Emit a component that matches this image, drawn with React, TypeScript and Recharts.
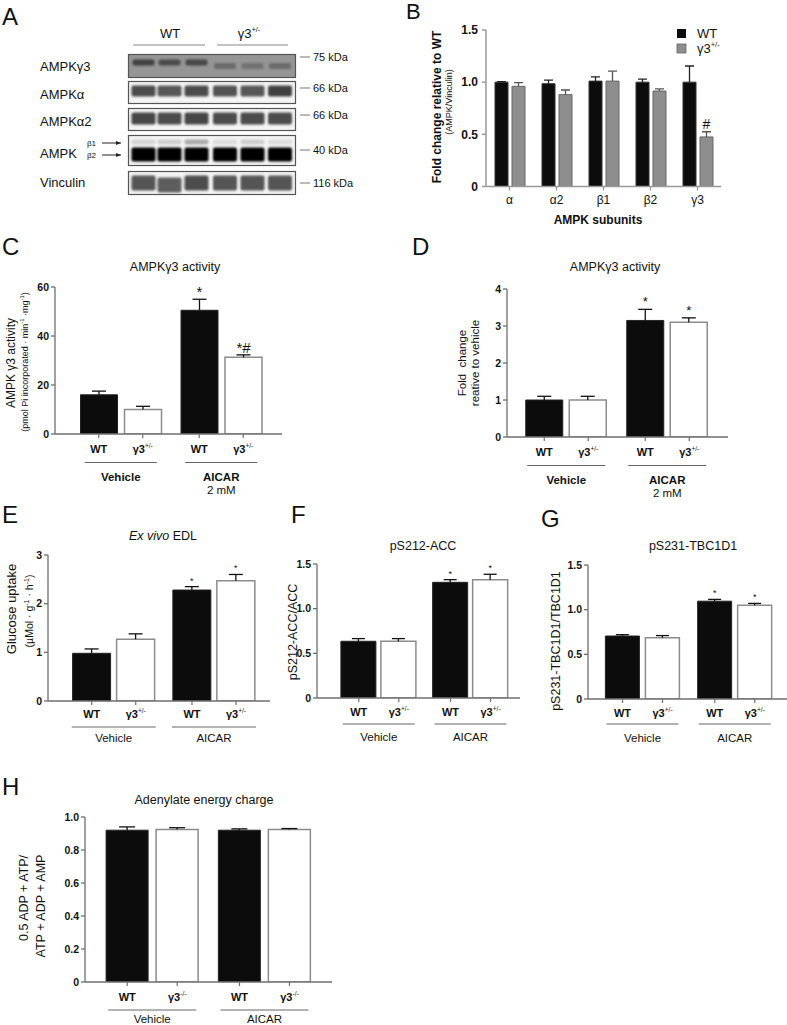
import React from 'react';
import { BarChart, Bar, XAxis, YAxis, LabelList } from 'recharts';

const FONT = '"Liberation Sans", Arial, Helvetica, sans-serif';
const INK = '#111';
const AXIS = '#6f6f6f';

// B: protein content, fold change relative to WT
const subunits = ['α', 'α2', 'β1', 'β2', 'γ3'];
const subunitWt = [1.0, 0.985, 1.01, 1.0, 1.0];
const subunitWtTop = [1.005, 1.02, 1.05, 1.03, 1.155];
const subunitHet = [0.96, 0.88, 1.01, 0.915, 0.475];
const subunitHetTop = [0.995, 0.925, 1.105, 0.935, 0.525];
const subunitWtMark = ['', '', '', '', ''];
const subunitHetMark = ['', '', '', '', '#'];

const treatments = ['Vehicle', 'AICAR'];

// C: AMPKγ3 activity (pmol/min/mg)
const actWt = [16, 50.5];
const actWtTop = [17.5, 55];
const actHet = [10, 31.3];
const actHetTop = [11.3, 32.3];
const actWtMark = ['', '*'];
const actHetMark = ['', '*#'];

// D: fold change relative to vehicle
const foldWt = [1.0, 3.15];
const foldWtTop = [1.1, 3.45];
const foldHet = [1.0, 3.1];
const foldHetTop = [1.1, 3.22];
const foldWtMark = ['', '*'];
const foldHetMark = ['', '*'];

// E: glucose uptake
const gluWt = [0.98, 2.28];
const gluWtTop = [1.07, 2.35];
const gluHet = [1.27, 2.47];
const gluHetTop = [1.38, 2.6];
const gluWtMark = ['', '*'];
const gluHetMark = ['', '*'];

// F: pS212-ACC/ACC
const accWt = [0.635, 1.295];
const accWtTop = [0.665, 1.325];
const accHet = [0.635, 1.325];
const accHetTop = [0.665, 1.385];
const accWtMark = ['', '*'];
const accHetMark = ['', '*'];

// G: pS231-TBC1D1/TBC1D1
const tbcWt = [0.705, 1.095];
const tbcWtTop = [0.72, 1.115];
const tbcHet = [0.685, 1.05];
const tbcHetTop = [0.71, 1.07];
const tbcWtMark = ['', '*'];
const tbcHetMark = ['', '*'];

// H: adenylate energy charge
const aecWt = [0.92, 0.92];
const aecWtTop = [0.94, 0.928];
const aecHet = [0.925, 0.925];
const aecHetTop = [0.935, 0.93];
const noMark = ['', ''];

// A: blot band intensities per lane (3 WT, 3 γ3+/-)
const g3Bands = [0.85, 0.75, 0.8, 0.5, 0.42, 0.5];
const alphaBands = [0.85, 0.8, 0.85, 0.82, 0.8, 0.9];
const alpha2Bands = [0.88, 0.85, 0.88, 0.85, 0.85, 0.85];
const beta1Bands = [0.25, 0.3, 0.6, 0.2, 0.3, 0.2];
const beta2Bands = [1, 1, 1, 1, 1, 1];
const vinculinBands = [0.85, 0.8, 0.9, 0.85, 0.85, 0.85];

type Row = { name: string; wt: number; wtE: number; het: number; hetE: number; wtMark: string; hetMark: string };

const rows = (names: string[], wt: number[], wtTop: number[], het: number[], hetTop: number[], wtMark: string[], hetMark: string[]): Row[] =>
  names.map((name, i) => ({
    name,
    wt: wt[i],
    wtE: wtTop[i] - wt[i],
    het: het[i],
    hetE: hetTop[i] - het[i],
    wtMark: wtMark[i],
    hetMark: hetMark[i],
  }));

const errorShape = (color: string, cap: number) => (p: any) => {
  const cx = p.x + p.width / 2;
  const top = p.y;
  const bottom = p.y + p.height;
  return (
    <g>
      <line x1={cx} x2={cx} y1={bottom} y2={top} stroke={color} strokeWidth={1.3} />
      <line x1={cx - cap / 2} x2={cx + cap / 2} y1={top} y2={top} stroke={color} strokeWidth={1.3} />
    </g>
  );
};

const markLabel = (size: number, lift: number) => (p: any) => {
  if (!p.value) return null;
  return (
    <text x={p.x + p.width / 2} y={p.y - lift} textAnchor="middle" fontSize={size} fontFamily={FONT} fill={INK}>
      {p.value}
    </text>
  );
};

type TickCfg = {
  off: number;
  half: number;
  het: string;
  wtY: number;
  lineY: number;
  nameY: number;
  boldName: boolean;
  fs: number;
  nameFs: number;
  subs?: string[];
};

const groupTick = (cfg: TickCfg) => (p: any) => {
  const { x, y, payload } = p;
  const idx = treatments.indexOf(payload.value);
  const sub = cfg.subs ? cfg.subs[idx] : '';
  return (
    <g fontFamily={FONT} fill={INK}>
      <line x1={x - cfg.off} x2={x - cfg.off} y1={y} y2={y + 4} stroke={AXIS} strokeWidth={1.2} />
      <line x1={x + cfg.off} x2={x + cfg.off} y1={y} y2={y + 4} stroke={AXIS} strokeWidth={1.2} />
      <text x={x - cfg.off} y={y + cfg.wtY} textAnchor="middle" fontSize={cfg.fs} fontWeight="bold">WT</text>
      <text x={x + cfg.off} y={y + cfg.wtY} textAnchor="middle" fontSize={cfg.fs} fontWeight="bold">
        γ3<tspan fontSize={cfg.fs * 0.6} dy={-cfg.fs * 0.42} fontWeight="normal">{cfg.het}</tspan>
      </text>
      <line x1={x - cfg.half} x2={x + cfg.half} y1={y + cfg.lineY} y2={y + cfg.lineY} stroke="#666" strokeWidth={1} />
      <text x={x} y={y + cfg.nameY} textAnchor="middle" fontSize={cfg.nameFs} fontWeight={cfg.boldName ? 'bold' : 'normal'}>
        {payload.value}
      </text>
      {sub ? (
        <text x={x} y={y + cfg.nameY + 13} textAnchor="middle" fontSize={cfg.nameFs}>{sub}</text>
      ) : null}
    </g>
  );
};

const fmt1 = (v: number) => (v === 0 ? '0' : v.toFixed(1));

type PanelProps = {
  axisX: number;
  yTop: number;
  y0: number;
  xEnd: number;
  domain: [number, number];
  ticks: number[];
  fmt?: (v: number) => string;
  barSize: number;
  barGap: number;
  padL: number;
  padR: number;
  data: Row[];
  tick: TickCfg;
  markSize: number;
  markLift: number;
  cap: number;
};

const GroupPanel = (p: PanelProps) => {
  const yw = 44;
  const mt = 14;
  const xh = 75;
  const width = yw + (p.xEnd - p.axisX) + 2;
  const height = p.y0 - p.yTop + mt + xh;
  return (
    <div style={{ position: 'absolute', left: p.axisX - yw, top: p.yTop - mt }}>
      <BarChart
        width={width}
        height={height}
        data={p.data}
        margin={{ top: mt, right: 2, bottom: 0, left: 0 }}
        barSize={p.barSize}
        barGap={p.barGap}
      >
        <XAxis
          dataKey="name"
          height={xh}
          padding={{ left: p.padL, right: p.padR }}
          axisLine={{ stroke: AXIS, strokeWidth: 1.3 }}
          tickLine={false}
          tickSize={0}
          tickMargin={0}
          interval={0}
          tick={groupTick(p.tick)}
        />
        <YAxis
          width={yw}
          type="number"
          domain={p.domain}
          ticks={p.ticks}
          interval={0}
          allowDataOverflow
          tickFormatter={p.fmt}
          tickSize={4}
          tickMargin={2}
          axisLine={{ stroke: AXIS, strokeWidth: 1.3 }}
          tickLine={{ stroke: AXIS, strokeWidth: 1.3 }}
          tick={{ fill: INK, fontSize: 10.5, fontWeight: 'bold', fontFamily: FONT }}
        />
        <Bar dataKey="wt" stackId="wt" fill="#0c0c0c" stroke="#222" strokeWidth={1} isAnimationActive={false} />
        <Bar dataKey="wtE" stackId="wt" shape={errorShape('#111', p.cap)} isAnimationActive={false}>
          <LabelList dataKey="wtMark" content={markLabel(p.markSize, p.markLift)} />
        </Bar>
        <Bar dataKey="het" stackId="het" fill="#ffffff" stroke="#8c8c8c" strokeWidth={1.5} isAnimationActive={false} />
        <Bar dataKey="hetE" stackId="het" shape={errorShape('#111', p.cap)} isAnimationActive={false}>
          <LabelList dataKey="hetMark" content={markLabel(p.markSize, p.markLift)} />
        </Bar>
      </BarChart>
    </div>
  );
};

const subunitTick = (p: any) => (
  <g fontFamily={FONT}>
    <line x1={p.x} x2={p.x} y1={p.y} y2={p.y + 4} stroke="#999" strokeWidth={1.3} />
    <text x={p.x} y={p.y + 17} textAnchor="middle" fontSize={12} fill={INK}>{p.payload.value}</text>
  </g>
);

const PanelB = () => {
  const axisX = 486;
  const yTop = 29.5;
  const y0 = 186;
  const xEnd = 721;
  const yw = 44;
  const mt = 10;
  const xh = 30;
  return (
    <div style={{ position: 'absolute', left: axisX - yw, top: yTop - mt }}>
      <BarChart
        width={yw + (xEnd - axisX) + 2}
        height={y0 - yTop + mt + xh}
        data={rows(subunits, subunitWt, subunitWtTop, subunitHet, subunitHetTop, subunitWtMark, subunitHetMark)}
        margin={{ top: mt, right: 2, bottom: 0, left: 0 }}
        barSize={13}
        barGap={4}
      >
        <XAxis
          dataKey="name"
          height={xh}
          axisLine={{ stroke: '#999', strokeWidth: 1.5 }}
          tickLine={false}
          tickSize={0}
          tickMargin={0}
          interval={0}
          tick={subunitTick}
        />
        <YAxis
          width={yw}
          type="number"
          domain={[0, 1.5]}
          ticks={[0, 0.5, 1, 1.5]}
          interval={0}
          allowDataOverflow
          tickFormatter={fmt1}
          tickSize={4}
          tickMargin={4}
          axisLine={{ stroke: '#999', strokeWidth: 1.5 }}
          tickLine={{ stroke: '#999', strokeWidth: 1.5 }}
          tick={{ fill: INK, fontSize: 12, fontWeight: 'bold', fontFamily: FONT }}
        />
        <Bar dataKey="wt" stackId="wt" fill="#0c0c0c" stroke="#333" strokeWidth={1} isAnimationActive={false} />
        <Bar dataKey="wtE" stackId="wt" shape={errorShape('#222', 9)} isAnimationActive={false}>
          <LabelList dataKey="wtMark" content={markLabel(14, 3)} />
        </Bar>
        <Bar dataKey="het" stackId="het" fill="#8e8e8e" stroke="#666" strokeWidth={1} isAnimationActive={false} />
        <Bar dataKey="hetE" stackId="het" shape={errorShape('#555', 9)} isAnimationActive={false}>
          <LabelList dataKey="hetMark" content={markLabel(14, 3)} />
        </Bar>
      </BarChart>
    </div>
  );
};

const laneX = [143.5, 169.5, 196.5, 225, 252.5, 280];

const Bands = ({ vals, y, h, color, w = 24, shift = [] as number[] }: { vals: number[]; y: number; h: number; color: string; w?: number; shift?: number[] }) => (
  <g filter="url(#blur)">
    {vals.map((v, i) => (
      <rect key={i} x={laneX[i] - w / 2} y={y + (shift[i] || 0)} width={w} height={h} rx={2} fill={color} opacity={v} />
    ))}
  </g>
);

const Sup = ({ t }: { t: string }) => (
  <tspan fontSize={7.5} dy={-6}>{t}</tspan>
);

const Overlay = () => (
  <svg width={787} height={1025} style={{ position: 'absolute', left: 0, top: 0, pointerEvents: 'none' }} fontFamily={FONT} fill={INK}>
    <defs>
      <filter id="blur" x="-20%" y="-50%" width="140%" height="200%">
        <feGaussianBlur stdDeviation="1.3" />
      </filter>
      <marker id="arr" markerWidth="6" markerHeight="6" refX="5" refY="3" orient="auto">
        <path d="M0,1 L5,3 L0,5" fill="#222" />
      </marker>
    </defs>

    {/* panel letters */}
    <text x={2} y={25} fontSize={24}>A</text>
    <text x={406} y={19} fontSize={22}>B</text>
    <text x={2} y={255} fontSize={24}>C</text>
    <text x={412} y={255} fontSize={24}>D</text>
    <text x={2} y={523} fontSize={24}>E</text>
    <text x={291} y={523} fontSize={24}>F</text>
    <text x={541} y={527} fontSize={24}>G</text>
    <text x={2} y={795} fontSize={24}>H</text>

    {/* A: blot */}
    <text x={170} y={38} fontSize={13} textAnchor="middle">WT</text>
    <line x1={133} x2={205} y1={45} y2={45} stroke="#888" strokeWidth={1} />
    <text x={249} y={38} fontSize={13} textAnchor="middle">γ3<Sup t="+/-" /></text>
    <line x1={217} x2={288} y1={45} y2={45} stroke="#888" strokeWidth={1} />

    <rect x={128.5} y={54.5} width={167} height={23} fill="#959595" stroke="#555" strokeWidth={1.2} />
    <Bands vals={g3Bands.slice(0, 3).concat([0, 0, 0])} y={59.5} h={6} color="#333" w={22} />
    <Bands vals={[0, 0, 0].concat(g3Bands.slice(3))} y={63} h={6} color="#444" w={22} />
    <rect x={128.5} y={81.5} width={167} height={22} fill="#f4f4f4" stroke="#555" strokeWidth={1.2} />
    <Bands vals={alphaBands} y={85.5} h={11} color="#2e2e2e" />
    <rect x={128.5} y={108.5} width={167} height={22} fill="#f4f4f4" stroke="#555" strokeWidth={1.2} />
    <Bands vals={alpha2Bands} y={112.5} h={12} color="#2e2e2e" />
    <rect x={128.5} y={135.5} width={167} height={30} fill="#f4f4f4" stroke="#555" strokeWidth={1.2} />
    <Bands vals={beta1Bands} y={139.5} h={5} color="#777" />
    <Bands vals={beta2Bands} y={147.5} h={14} color="#060606" />
    <rect x={128.5} y={171.5} width={167} height={23} fill="#f4f4f4" stroke="#555" strokeWidth={1.2} />
    <Bands vals={vinculinBands} y={175.5} h={15} color="#3a3a3a" shift={[0, 2, 0, 0, 0, 0]} />

    <g fontSize={13}>
      <text x={40} y={71}>AMPKγ3</text>
      <text x={40} y={99}>AMPKα</text>
      <text x={40} y={126}>AMPKα2</text>
      <text x={40} y={158}>AMPK</text>
      <text x={40} y={187}>Vinculin</text>
    </g>
    <text x={87} y={146} fontSize={8}>β1</text>
    <text x={87} y={158} fontSize={8}>β2</text>
    <line x1={102} x2={121} y1={143} y2={143} stroke="#222" strokeWidth={1} markerEnd="url(#arr)" />
    <line x1={102} x2={121} y1={155} y2={155} stroke="#222" strokeWidth={1} markerEnd="url(#arr)" />

    <g fontSize={11}>
      {[
        ['75 kDa', 61],
        ['66 kDa', 92],
        ['66 kDa', 119],
        ['40 kDa', 154],
        ['116 kDa', 187],
      ].map(([t, y]) => (
        <g key={`${t}${y}`}>
          <line x1={300} x2={310} y1={(y as number) - 4} y2={(y as number) - 4} stroke="#777" strokeWidth={1} />
          <text x={313} y={y as number}>{t}</text>
        </g>
      ))}
    </g>

    {/* B */}
    <text transform="rotate(-90 441 107)" x={441} y={107} textAnchor="middle" fontSize={12} fontWeight="bold">Fold change relative to WT</text>
    <text transform="rotate(-90 452 102)" x={452} y={102} textAnchor="middle" fontSize={9}>(AMPK/Vinculin)</text>
    <text x={598} y={224} textAnchor="middle" fontSize={12} fontWeight="bold">AMPK subunits</text>
    <rect x={677} y={29} width={9} height={9} fill="#0c0c0c" />
    <text x={697} y={38} fontSize={13}>WT</text>
    <rect x={677} y={44} width={9} height={9} fill="#8e8e8e" stroke="#666" strokeWidth={0.8} />
    <text x={697} y={53} fontSize={13}>γ3<Sup t="+/-" /></text>

    {/* C */}
    <text x={175} y={271} textAnchor="middle" fontSize={12.5}>AMPKγ3 activity</text>
    <text transform="rotate(-90 15 363)" x={15} y={363} textAnchor="middle" fontSize={12}>AMPK γ3 activity</text>
    <text transform="rotate(-90 28 362)" x={28} y={362} textAnchor="middle" fontSize={9}>
      (pmol Pi incorporated · min<tspan fontSize={6} dy={-4}>-1</tspan><tspan dy={4}> ·mg</tspan><tspan fontSize={6} dy={-4}>-1</tspan><tspan dy={4}>)</tspan>
    </text>

    {/* D */}
    <text x={615} y={271} textAnchor="middle" fontSize={12.5}>AMPKγ3 activity</text>
    <text transform="rotate(-90 466 363)" x={466} y={363} textAnchor="middle" fontSize={11.5}>{'Fold\u00a0\u00a0change'}</text>
    <text transform="rotate(-90 479 363)" x={479} y={363} textAnchor="middle" fontSize={11.5}>reative to vehicle</text>

    {/* E */}
    <text x={163} y={540} textAnchor="middle" fontSize={12.5}><tspan fontStyle="italic">Ex vivo</tspan> EDL</text>
    <text transform="rotate(-90 16 609)" x={16} y={609} textAnchor="middle" fontSize={13}>Glucose uptake</text>
    <text transform="rotate(-90 33 611)" x={33} y={611} textAnchor="middle" fontSize={10.5}>
      (µMol · g<tspan fontSize={7} dy={-4}>-1</tspan><tspan dy={4}> · h</tspan><tspan fontSize={7} dy={-4}>-1</tspan><tspan dy={4}>)</tspan>
    </text>

    {/* F */}
    <text x={423} y={550} textAnchor="middle" fontSize={12.5}>pS212-ACC</text>
    <text transform="rotate(-90 297 632)" x={297} y={632} textAnchor="middle" fontSize={12.5}>pS212-ACC/ACC</text>

    {/* G */}
    <text x={693} y={550} textAnchor="middle" fontSize={12.5}>pS231-TBC1D1</text>
    <text transform="rotate(-90 560 641)" x={560} y={641} textAnchor="middle" fontSize={12.5}>pS231-TBC1D1/TBC1D1</text>

    {/* H */}
    <text x={204} y={804} textAnchor="middle" fontSize={12.5}>Adenylate energy charge</text>
    <text transform="rotate(-90 28 898)" x={28} y={898} textAnchor="middle" fontSize={12.5}>0.5 ADP + ATP/</text>
    <text transform="rotate(-90 45 906)" x={45} y={906} textAnchor="middle" fontSize={12.5}>ATP + ADP + AMP</text>
  </svg>
);

const tickCD = (half: number): TickCfg => ({
  off: 22,
  half,
  het: '+/-',
  wtY: 19,
  lineY: 28.5,
  nameY: 47,
  boldName: true,
  fs: 11,
  nameFs: 11.5,
  subs: ['', '2 mM'],
});

const tickPlain = (off: number, half: number, het: string, wtY: number, lineY: number, nameY: number): TickCfg => ({
  off,
  half,
  het,
  wtY,
  lineY,
  nameY,
  boldName: false,
  fs: 11,
  nameFs: 11.5,
});

const App = () => (
  <div style={{ position: 'absolute', left: 0, top: 0, width: 787, height: 1025, overflow: 'hidden', background: '#fff', fontFamily: FONT }}>
    <PanelB />
    <GroupPanel
      axisX={55}
      yTop={287}
      y0={434}
      xEnd={282}
      domain={[0, 60]}
      ticks={[0, 20, 40, 60]}
      barSize={37}
      barGap={7}
      padL={15.5}
      padR={10.5}
      data={rows(treatments, actWt, actWtTop, actHet, actHetTop, actWtMark, actHetMark)}
      tick={tickCD(36)}
      markSize={15}
      markLift={2}
      cap={14}
    />
    <GroupPanel
      axisX={507}
      yTop={289}
      y0={437}
      xEnd={728}
      domain={[0, 4]}
      ticks={[0, 1, 2, 3, 4]}
      barSize={37}
      barGap={6.5}
      padL={8.75}
      padR={10.25}
      data={rows(treatments, foldWt, foldWtTop, foldHet, foldHetTop, foldWtMark, foldHetMark)}
      tick={tickCD(39)}
      markSize={13}
      markLift={3}
      cap={14}
    />
    <GroupPanel
      axisX={48}
      yTop={555}
      y0={701}
      xEnd={270}
      domain={[0, 3]}
      ticks={[0, 1, 2, 3]}
      barSize={38}
      barGap={6}
      padL={15.6}
      padR={5.9}
      data={rows(treatments, gluWt, gluWtTop, gluHet, gluHetTop, gluWtMark, gluHetMark)}
      tick={tickPlain(22, 42, '+/-', 17, 26, 41)}
      markSize={9}
      markLift={3}
      cap={14}
    />
    <GroupPanel
      axisX={317}
      yTop={564}
      y0={698}
      xEnd={520}
      domain={[0, 1.5]}
      ticks={[0, 0.5, 1, 1.5]}
      fmt={fmt1}
      barSize={35}
      barGap={5}
      padL={15.9}
      padR={3.6}
      data={rows(treatments, accWt, accWtTop, accHet, accHetTop, accWtMark, accHetMark)}
      tick={tickPlain(20, 36, '+/-', 18, 26, 43)}
      markSize={9}
      markLift={3}
      cap={13}
    />
    <GroupPanel
      axisX={588}
      yTop={565}
      y0={699}
      xEnd={787}
      domain={[0, 1.5]}
      ticks={[0, 0.5, 1, 1.5]}
      fmt={fmt1}
      barSize={34}
      barGap={6}
      padL={8.4}
      padR={6.1}
      data={rows(treatments, tbcWt, tbcWtTop, tbcHet, tbcHetTop, tbcWtMark, tbcHetMark)}
      tick={tickPlain(20, 36, '+/-', 18, 25, 43)}
      markSize={9}
      markLift={3}
      cap={13}
    />
    <GroupPanel
      axisX={85}
      yTop={817}
      y0={982}
      xEnd={332}
      domain={[0, 1]}
      ticks={[0, 0.2, 0.4, 0.6, 0.8, 1]}
      fmt={fmt1}
      barSize={42}
      barGap={8}
      padL={11.1}
      padR={11.4}
      data={rows(treatments, aecWt, aecWtTop, aecHet, aecHetTop, noMark, noMark)}
      tick={tickPlain(25, 44, '-/-', 19, 28, 41)}
      markSize={9}
      markLift={3}
      cap={16}
    />
    <Overlay />
  </div>
);

export default App;
